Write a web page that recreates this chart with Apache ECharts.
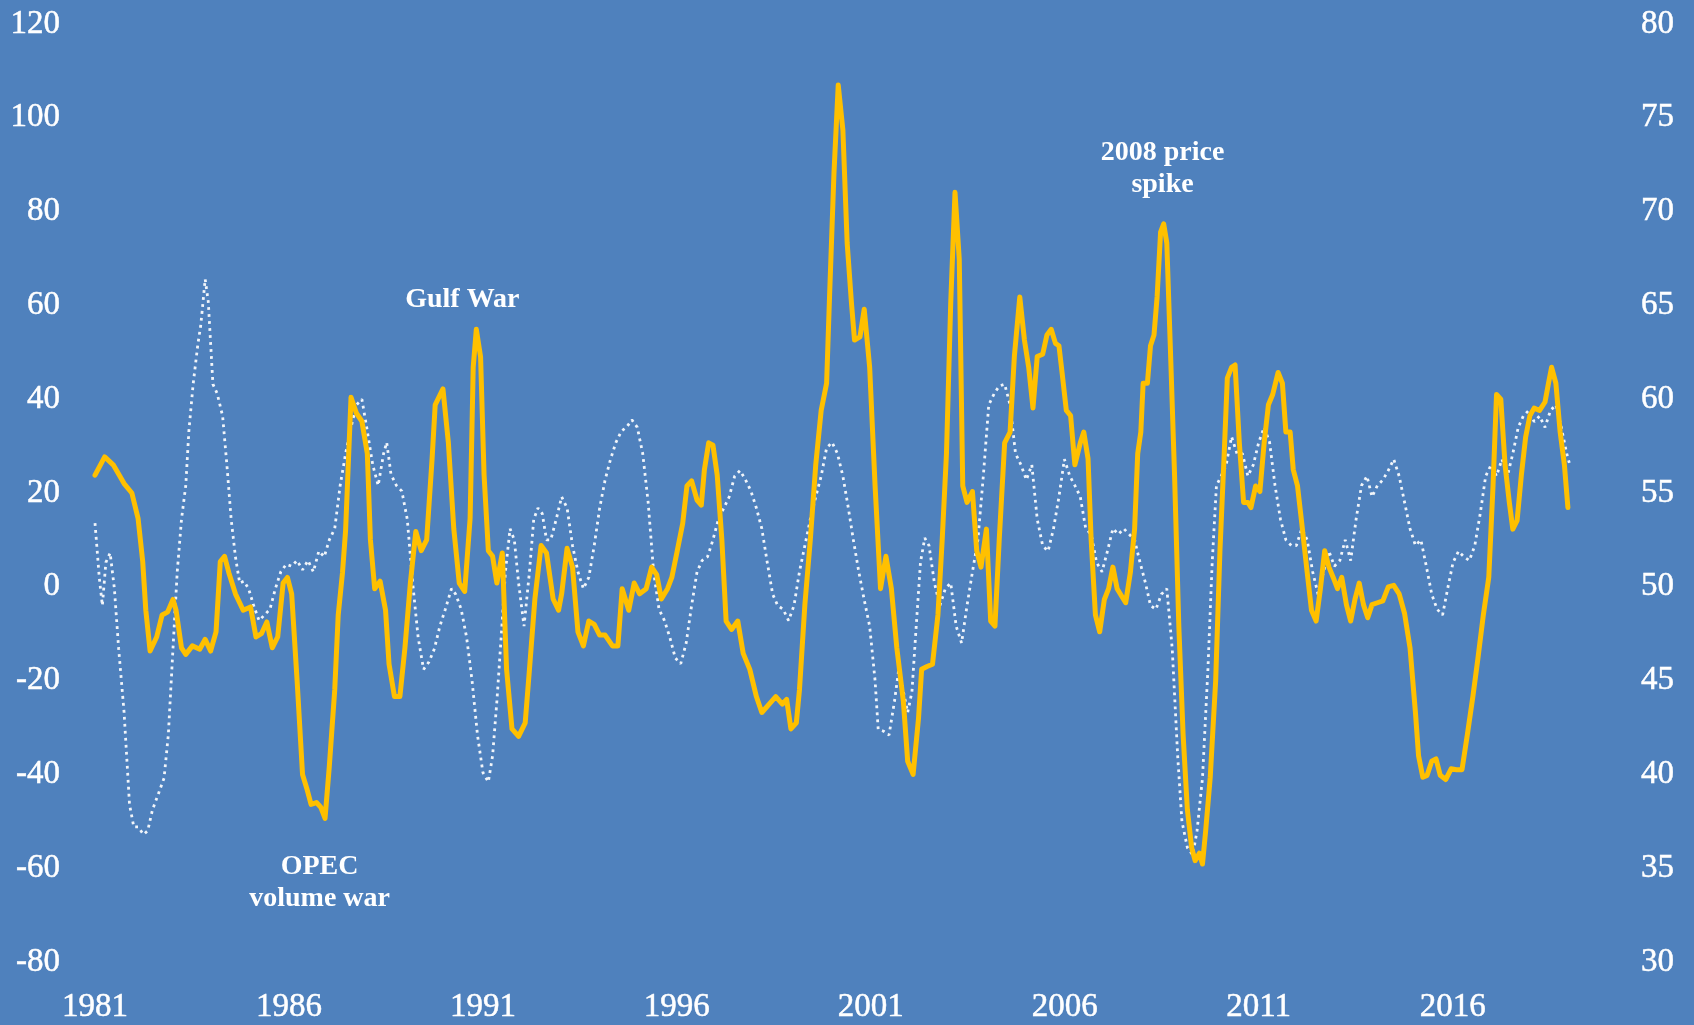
<!DOCTYPE html>
<html>
<head>
<meta charset="utf-8">
<script src="https://cdn.jsdelivr.net/npm/echarts@6/dist/echarts.min.js"></script>
<style>
  html, body { margin: 0; padding: 0; background: #4F81BD; }
  #main { width: 1694px; height: 1025px; }
</style>
</head>
<body>
<div id="main"></div>
<script>
// x tick labels (years)
var yearTicks = [1981, 1986, 1991, 1996, 2001, 2006, 2011, 2016];

// yellow line, left axis: [year, value]
var priceChange = [
  [1981.00, 23.8], [1981.25, 27.7], [1981.47, 26], [1981.75, 22], [1981.95, 20],
  [1982.11, 14.6], [1982.23, 5.4], [1982.31, -5], [1982.42, -13.7], [1982.59, -10.7],
  [1982.73, -6], [1982.87, -5.4], [1983.01, -2.7], [1983.09, -5], [1983.23, -13],
  [1983.34, -14.4], [1983.51, -12.6], [1983.70, -13.3], [1983.84, -11.2], [1983.98, -13.7],
  [1984.12, -9.6], [1984.23, 5.4], [1984.34, 6.5], [1984.45, 3], [1984.62, -1.5],
  [1984.82, -5], [1985.01, -4.3], [1985.15, -10.7], [1985.29, -10], [1985.43, -7.5],
  [1985.57, -13], [1985.71, -10.7], [1985.85, 0.8], [1985.96, 2], [1986.07, -1.5],
  [1986.21, -20], [1986.35, -40], [1986.46, -43], [1986.57, -46.4], [1986.71, -46],
  [1986.82, -47], [1986.93, -49.4], [1987.04, -38.3], [1987.18, -22], [1987.27, -6],
  [1987.38, 3], [1987.46, 12], [1987.60, 40.4], [1987.74, 37], [1987.88, 35.3],
  [1988.02, 28.4], [1988.10, 10], [1988.21, -0.4], [1988.35, 1.2], [1988.49, -5],
  [1988.58, -16.5], [1988.72, -23.4], [1988.86, -23.4], [1988.99, -13], [1989.13, 0.8],
  [1989.27, 11.8], [1989.41, 7.7], [1989.55, 10], [1989.69, 27.3], [1989.77, 38.8],
  [1989.97, 42.2], [1990.11, 30.7], [1990.25, 12.3], [1990.39, 0.8], [1990.53, -1],
  [1990.67, 14.6], [1990.75, 46.8], [1990.83, 54.9], [1990.94, 49], [1991.03, 23.8],
  [1991.14, 7.7], [1991.25, 6.5], [1991.36, 0.8], [1991.50, 7.2], [1991.61, -17.6],
  [1991.75, -30.3], [1991.92, -31.9], [1992.09, -29], [1992.20, -17.6], [1992.34, -2.6],
  [1992.50, 8.8], [1992.64, 7.2], [1992.81, -2.6], [1992.95, -5], [1993.03, -1.5],
  [1993.17, 8.2], [1993.31, 4.2], [1993.45, -9.6], [1993.59, -12.6], [1993.73, -7.3],
  [1993.87, -8], [1994.01, -10.3], [1994.15, -10.3], [1994.34, -12.6], [1994.48, -12.6],
  [1994.59, -0.4], [1994.76, -5], [1994.90, 0.8], [1995.04, -1.5], [1995.21, -0.4],
  [1995.35, 4.2], [1995.48, 2.6], [1995.60, -2.6], [1995.76, -0.4], [1995.87, 2],
  [1996.01, 7.7], [1996.15, 13.5], [1996.26, 21.5], [1996.38, 22.6], [1996.52, 18.5],
  [1996.63, 17.4], [1996.71, 25], [1996.82, 30.7], [1996.93, 30.2], [1997.04, 23.8],
  [1997.16, 10], [1997.27, -7.3], [1997.41, -9.1], [1997.57, -7.3], [1997.71, -14.2],
  [1997.88, -17.6], [1998.05, -23.4], [1998.19, -26.8], [1998.38, -25], [1998.55, -23.4],
  [1998.72, -25], [1998.83, -24], [1998.94, -30.3], [1999.08, -29], [1999.16, -22],
  [1999.30, -3.8], [1999.44, 10], [1999.58, 26], [1999.72, 37.6], [1999.86, 43.4],
  [1999.94, 62.9], [2000.05, 88.2], [2000.16, 107], [2000.28, 97.4], [2000.39, 73.3],
  [2000.50, 60.6], [2000.58, 52.6], [2000.72, 53.3], [2000.83, 59.2], [2000.97, 46.8],
  [2001.11, 21.5], [2001.25, -0.4], [2001.39, 6.5], [2001.53, -0.4], [2001.67, -13],
  [2001.84, -24.5], [2001.95, -37.2], [2002.09, -40], [2002.23, -28], [2002.31, -17.6],
  [2002.45, -17], [2002.59, -16.5], [2002.73, -6], [2002.84, 10], [2002.95, 28.4],
  [2003.06, 60.6], [2003.17, 84.1], [2003.28, 69.8], [2003.37, 21.5], [2003.48, 18],
  [2003.62, 20.3], [2003.73, 7.7], [2003.84, 4.2], [2003.98, 12.3], [2004.09, -7.3],
  [2004.20, -8.4], [2004.31, 10], [2004.45, 30.7], [2004.59, 33], [2004.70, 49.1],
  [2004.84, 61.8], [2004.96, 52.6], [2005.07, 46.8], [2005.18, 38.1], [2005.29, 49.1],
  [2005.43, 49.6], [2005.54, 53.7], [2005.65, 54.9], [2005.76, 51.9], [2005.85, 51.4],
  [2005.93, 45.7], [2006.04, 37.6], [2006.15, 36.5], [2006.26, 26], [2006.40, 30.7],
  [2006.49, 33], [2006.60, 27.3], [2006.68, 10], [2006.79, -6], [2006.90, -9.6],
  [2007.02, -2.7], [2007.13, -0.4], [2007.24, 4.2], [2007.35, -0.4], [2007.46, -1.9],
  [2007.57, -3.4], [2007.69, 3], [2007.80, 12.3], [2007.88, 28.4], [2007.96, 33],
  [2008.02, 43.4], [2008.13, 43.4], [2008.21, 51.4], [2008.30, 53.7], [2008.38, 61.8],
  [2008.47, 75.6], [2008.55, 77.4], [2008.63, 73.3], [2008.72, 51.4], [2008.83, 23.8],
  [2008.94, -8.4], [2009.05, -31.4], [2009.16, -47.5], [2009.27, -55.6], [2009.36, -58.4],
  [2009.47, -56.8], [2009.55, -59.1], [2009.63, -52.2], [2009.75, -40.6], [2009.89, -20],
  [2010.00, 7.7], [2010.11, 28.4], [2010.19, 44.5], [2010.30, 46.8], [2010.39, 47.3],
  [2010.50, 30.7], [2010.61, 18], [2010.72, 18], [2010.80, 16.9], [2010.92, 21.5],
  [2011.03, 20.3], [2011.14, 30.7], [2011.25, 38.8], [2011.36, 41], [2011.50, 45.7],
  [2011.61, 43.4], [2011.70, 33], [2011.81, 33], [2011.89, 25], [2012.00, 21.5],
  [2012.11, 13.5], [2012.25, 3], [2012.36, -5], [2012.48, -7.3], [2012.59, -0.4],
  [2012.70, 7.7], [2012.81, 4.2], [2012.92, 2], [2013.03, -0.4], [2013.14, 2],
  [2013.26, -3.8], [2013.37, -7.3], [2013.48, -2.7], [2013.59, 0.8], [2013.70, -3.8],
  [2013.81, -6.6], [2013.92, -3.8], [2014.06, -3.4], [2014.20, -3], [2014.34, 0],
  [2014.48, 0.3], [2014.62, -1.5], [2014.76, -5.7], [2014.90, -13], [2015.04, -26.8],
  [2015.12, -36], [2015.23, -40.6], [2015.34, -40.2], [2015.46, -37.2], [2015.57, -36.7],
  [2015.68, -40.2], [2015.82, -41.1], [2015.96, -38.8], [2016.10, -39], [2016.24, -39],
  [2016.38, -31.4], [2016.52, -23.4], [2016.65, -15.3], [2016.79, -6], [2016.93, 2],
  [2017.04, 21.5], [2017.13, 41], [2017.24, 40], [2017.35, 26], [2017.46, 18],
  [2017.55, 12.3], [2017.66, 14.1], [2017.77, 23.8], [2017.88, 31.9], [2017.99, 36.5],
  [2018.10, 38.1], [2018.24, 37.6], [2018.38, 39.4], [2018.47, 43.4], [2018.55, 46.8],
  [2018.66, 43.4], [2018.77, 33], [2018.88, 26], [2018.97, 16.9]
];

// white dotted line, right axis: [year, value]
var rightIndex = [
  [1981.00, 53.4], [1981.11, 50.5], [1981.19, 49.0], [1981.28, 51.3], [1981.39, 51.8],
  [1981.50, 49.9], [1981.61, 46.7], [1981.75, 43.3], [1981.89, 38.4], [1982.00, 37.2],
  [1982.11, 37.2], [1982.25, 36.8], [1982.36, 37.0], [1982.48, 38.1], [1982.64, 39.0],
  [1982.78, 39.8], [1982.89, 42.1], [1983.01, 46.7], [1983.12, 50.8], [1983.23, 53.6],
  [1983.34, 55.4], [1983.42, 58.3], [1983.53, 60.8], [1983.65, 62.9], [1983.73, 64.0],
  [1983.84, 66.4], [1983.92, 65.2], [1984.04, 60.8], [1984.15, 60.3], [1984.29, 59.1],
  [1984.40, 56.5], [1984.51, 53.6], [1984.62, 51.6], [1984.73, 50.2], [1984.84, 50.3],
  [1984.96, 49.9], [1985.09, 49.0], [1985.23, 48.2], [1985.37, 48.5], [1985.51, 48.8],
  [1985.65, 49.9], [1985.79, 50.8], [1985.93, 51.2], [1986.07, 51.1], [1986.21, 51.4],
  [1986.35, 50.9], [1986.49, 51.4], [1986.63, 50.8], [1986.77, 51.9], [1986.91, 51.6],
  [1987.04, 52.5], [1987.18, 53.1], [1987.32, 55.4], [1987.46, 57.1], [1987.60, 58.5],
  [1987.74, 59.7], [1987.88, 60.0], [1988.02, 58.3], [1988.16, 56.5], [1988.30, 55.4],
  [1988.44, 57.1], [1988.52, 57.7], [1988.63, 56.0], [1988.77, 55.4], [1988.91, 55.1],
  [1989.05, 53.6], [1989.19, 50.2], [1989.33, 47.3], [1989.47, 45.6], [1989.61, 46.0],
  [1989.75, 46.7], [1989.89, 47.9], [1990.03, 48.8], [1990.19, 49.9], [1990.30, 49.6],
  [1990.44, 48.8], [1990.58, 47.3], [1990.72, 45.0], [1990.86, 42.1], [1991.00, 40.1],
  [1991.14, 39.6], [1991.25, 41.0], [1991.36, 43.9], [1991.47, 47.3], [1991.58, 50.8],
  [1991.70, 53.1], [1991.81, 52.5], [1991.92, 50.2], [1992.06, 47.9], [1992.20, 50.8],
  [1992.31, 53.6], [1992.42, 54.2], [1992.53, 53.9], [1992.64, 52.5], [1992.75, 52.5],
  [1992.89, 53.6], [1993.03, 54.8], [1993.17, 54.2], [1993.31, 52.2], [1993.45, 50.8],
  [1993.59, 49.9], [1993.73, 50.5], [1993.87, 52.2], [1994.01, 54.2], [1994.15, 55.7],
  [1994.29, 56.8], [1994.43, 57.7], [1994.57, 58.3], [1994.70, 58.5], [1994.84, 58.9],
  [1994.98, 58.5], [1995.12, 57.1], [1995.26, 54.5], [1995.40, 50.8], [1995.54, 48.8],
  [1995.68, 48.2], [1995.82, 47.3], [1995.96, 46.2], [1996.10, 45.9], [1996.24, 47.0],
  [1996.38, 49.0], [1996.52, 50.8], [1996.65, 51.4], [1996.79, 51.6], [1996.93, 52.5],
  [1997.07, 53.6], [1997.21, 54.2], [1997.35, 54.8], [1997.49, 55.9], [1997.63, 56.2],
  [1997.77, 55.7], [1997.91, 55.1], [1998.05, 54.2], [1998.19, 53.1], [1998.33, 51.3],
  [1998.47, 49.6], [1998.60, 49.0], [1998.74, 48.8], [1998.88, 48.2], [1999.02, 49.0],
  [1999.16, 50.8], [1999.30, 52.2], [1999.44, 53.6], [1999.58, 54.8], [1999.72, 55.9],
  [1999.86, 57.4], [2000.00, 57.7], [2000.14, 57.1], [2000.28, 55.9], [2000.42, 54.2],
  [2000.55, 52.5], [2000.69, 50.8], [2000.83, 49.3], [2000.97, 47.9], [2001.11, 45.0],
  [2001.19, 42.4], [2001.33, 42.3], [2001.47, 42.1], [2001.61, 43.9], [2001.72, 45.6],
  [2001.84, 44.4], [2001.95, 43.3], [2002.06, 44.4], [2002.17, 47.9], [2002.28, 51.3],
  [2002.39, 52.6], [2002.50, 52.2], [2002.64, 50.2], [2002.78, 49.0], [2002.92, 49.9],
  [2003.06, 50.2], [2003.20, 47.9], [2003.34, 47.0], [2003.48, 49.0], [2003.62, 50.8],
  [2003.76, 52.5], [2003.90, 55.9], [2004.04, 59.7], [2004.18, 60.3], [2004.31, 60.7],
  [2004.45, 60.8], [2004.59, 59.7], [2004.73, 57.1], [2004.87, 56.5], [2005.01, 55.7],
  [2005.15, 56.5], [2005.29, 53.6], [2005.43, 52.2], [2005.57, 51.9], [2005.71, 53.1],
  [2005.85, 54.8], [2005.99, 56.8], [2006.13, 55.9], [2006.26, 55.4], [2006.40, 54.8],
  [2006.54, 53.1], [2006.68, 52.8], [2006.82, 51.3], [2006.96, 50.8], [2007.10, 51.9],
  [2007.24, 53.1], [2007.38, 52.8], [2007.52, 53.1], [2007.66, 52.8], [2007.80, 52.5],
  [2007.94, 51.3], [2008.08, 50.2], [2008.21, 49.0], [2008.35, 48.8], [2008.49, 49.6],
  [2008.63, 49.9], [2008.77, 46.7], [2008.91, 41.0], [2009.02, 37.5], [2009.16, 36.1],
  [2009.30, 35.7], [2009.41, 37.0], [2009.55, 39.8], [2009.69, 45.6], [2009.80, 51.3],
  [2009.91, 55.4], [2010.03, 55.9], [2010.16, 56.5], [2010.30, 58.0], [2010.44, 57.1],
  [2010.58, 57.1], [2010.72, 55.9], [2010.86, 56.5], [2011.00, 57.7], [2011.14, 58.5],
  [2011.28, 57.7], [2011.42, 55.4], [2011.56, 53.6], [2011.70, 52.5], [2011.84, 52.2],
  [2011.97, 52.2], [2012.11, 53.1], [2012.25, 52.5], [2012.39, 50.8], [2012.53, 49.6],
  [2012.67, 50.8], [2012.81, 51.9], [2012.95, 51.1], [2013.09, 51.4], [2013.23, 52.5],
  [2013.37, 51.4], [2013.51, 53.6], [2013.65, 55.4], [2013.79, 55.9], [2013.92, 54.8],
  [2014.06, 55.4], [2014.20, 55.7], [2014.34, 56.2], [2014.48, 56.8], [2014.62, 55.9],
  [2014.76, 54.5], [2014.90, 53.1], [2015.04, 52.2], [2015.18, 52.5], [2015.32, 51.1],
  [2015.46, 49.6], [2015.60, 48.8], [2015.74, 48.5], [2015.87, 49.9], [2016.01, 51.3],
  [2016.15, 51.9], [2016.29, 51.6], [2016.43, 51.4], [2016.57, 52.2], [2016.71, 53.9],
  [2016.85, 55.9], [2016.99, 56.5], [2017.13, 55.9], [2017.27, 56.8], [2017.41, 55.9],
  [2017.55, 57.1], [2017.69, 58.5], [2017.82, 59.1], [2017.96, 59.4], [2018.10, 58.8],
  [2018.24, 59.1], [2018.38, 58.5], [2018.52, 59.4], [2018.66, 59.7], [2018.80, 58.5],
  [2018.94, 57.1], [2019.02, 56.5]
];

// annotation texts and where they sit: [year, left-axis value]
var notes = [
  { text: 'Gulf War', at: [1990.47, 61.3] },
  { text: '2008 price\nspike', at: [2008.52, 89.2] },
  { text: 'OPEC\nvolume war', at: [1986.79, -63.1] }
];

var serif = '"Liberation Serif", "DejaVu Serif", serif';

var myChart = echarts.init(document.getElementById('main'));

// shared look of the axis numbers
var tickText = {
    color: '#fff',
    fontFamily: serif,
    fontSize: 33,
    textBorderColor: '#fff',
    textBorderWidth: 0.5
};

var option = {
    backgroundColor: '#4F81BD',
    animation: false,
    textStyle: { fontFamily: serif },
    grid: { left: 95, top: 24, width: 1476, height: 938 },
    xAxis: {
        type: 'value',
        min: 1981,
        max: 2019.05,
        axisLine: { show: false },
        axisTick: { show: false },
        splitLine: { show: false },
        axisLabel: Object.assign({
            customValues: yearTicks,
            formatter: function (v) { return String(Math.round(v)); },
            margin: 29
        }, tickText)
    },
    yAxis: [{
        type: 'value',
        min: -80,
        max: 120,
        interval: 20,
        axisLine: { show: false },
        axisTick: { show: false },
        splitLine: { show: false },
        axisLabel: Object.assign({ margin: 35 }, tickText)
    }, {
        type: 'value',
        position: 'right',
        min: 30,
        max: 80,
        interval: 5,
        axisLine: { show: false },
        axisTick: { show: false },
        splitLine: { show: false },
        axisLabel: Object.assign({ margin: 70 }, tickText)
    }],
    series: [{
        type: 'line',
        yAxisIndex: 1,
        data: rightIndex,
        showSymbol: false,
        z: 2,
        lineStyle: {
            color: 'rgba(255,255,255,0.92)',
            width: 2.8,
            type: [2.8, 4.2]
        }
    }, {
        type: 'line',
        yAxisIndex: 0,
        data: priceChange,
        showSymbol: false,
        z: 3,
        lineStyle: { color: '#FFC000', width: 5, join: 'round', cap: 'round' },
        markPoint: {
            symbol: 'circle',
            symbolSize: 0,
            silent: true,
            label: {
                show: true,
                position: 'inside',
                color: '#fff',
                fontFamily: serif,
                fontWeight: 'bold',
                fontSize: 28,
                lineHeight: 32,
                formatter: function (p) { return p.name; }
            },
            data: notes.map(function (n) {
                return { name: n.text, coord: n.at };
            })
        }
    }]
};

myChart.setOption(option);
</script>
</body>
</html>
